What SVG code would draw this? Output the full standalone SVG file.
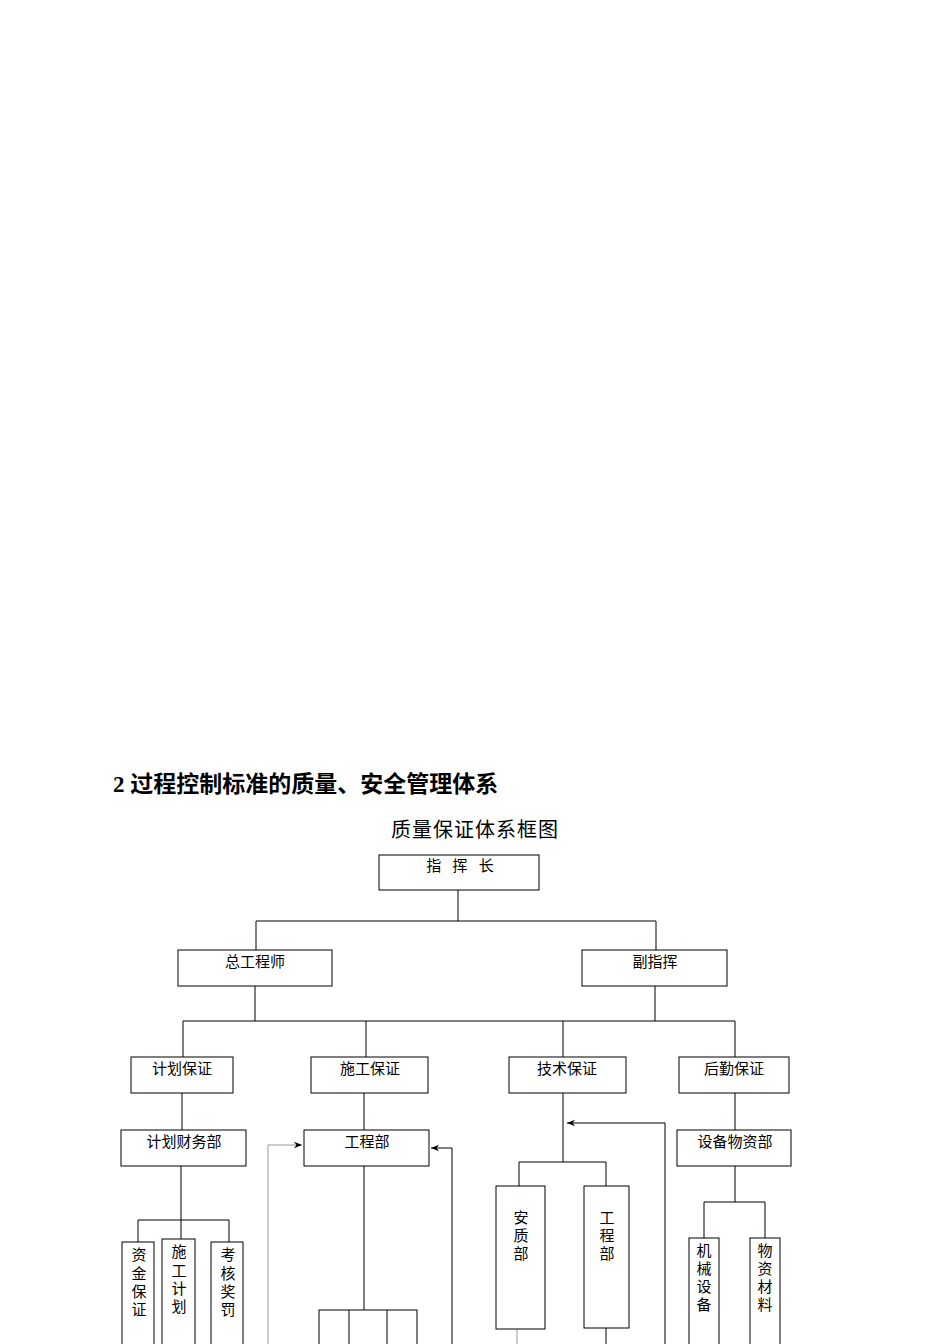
<svg xmlns="http://www.w3.org/2000/svg" width="950" height="1344" viewBox="0 0 950 1344">
<defs>
<style>
.b{fill:#fff;stroke:#000;stroke-width:1}
.l{fill:none;stroke:#000;stroke-width:1}
.g{fill:none;stroke:#999;stroke-width:1}
text{font-family:"Liberation Serif","Noto Sans CJK SC",serif;font-size:15px;fill:#000}
.c{text-anchor:middle}
</style>
<marker id="a" viewBox="0 0 10 10" refX="10" refY="5" markerWidth="8" markerHeight="8" orient="auto"><path d="M0,1 L10,5 L0,9 L3,5 Z" fill="#000"/></marker>
</defs>
<rect width="950" height="1344" fill="#fff"/>
<text x="113" y="792" style="font-size:23px;font-weight:bold">2 过程控制标准的质量、安全管理体系</text>
<text x="475" y="837" class="c" style="font-size:20px;letter-spacing:1px">质量保证体系框图</text>
<g id="connectors">
<path class="l" d="M458,890V921M256,921H656M256,921V950M656,921V950"/>
<path class="l" d="M255,986V1021M655,986V1021M183,1021H735M183,1021V1057M366,1021V1057M563,1021V1057M735,1021V1057"/>
<path class="l" d="M182,1093V1130M364,1093V1130M735,1093V1130"/>
<path class="l" d="M563,1093V1162M519,1162H606M519,1162V1186M606,1162V1186"/>
<path class="l" d="M665,1344V1123H567" marker-end="url(#a)"/>
<path class="g" d="M268,1344V1145H302" marker-end="url(#a)"/>
<path class="l" d="M452,1344V1148H431" marker-end="url(#a)"/>
<path class="g" d="M517,1329V1344"/>
<path class="l" d="M606,1328V1344"/>
<path class="l" d="M181,1166V1220M138,1220H229M138,1220V1242M181,1220V1239M229,1220V1242"/>
<path class="l" d="M364,1166V1310"/>
<path class="l" d="M735,1166V1202M704,1202H765M704,1202V1238M765,1202V1238"/>
</g>
<g id="n1"><rect class="b" x="379" y="855" width="160" height="35"/><text x="460" y="871" class="c" xml:space="preserve">指   挥   长</text></g>
<g id="n2"><rect class="b" x="178" y="950" width="154" height="36"/><text x="255" y="967" class="c">总工程师</text></g>
<g id="n3"><rect class="b" x="582" y="950" width="145" height="36"/><text x="655" y="967" class="c">副指挥</text></g>
<g id="n4"><rect class="b" x="131" y="1057" width="102" height="36"/><text x="182" y="1074" class="c">计划保证</text></g>
<g id="n5"><rect class="b" x="311" y="1057" width="117" height="36"/><text x="370" y="1074" class="c">施工保证</text></g>
<g id="n6"><rect class="b" x="509" y="1057" width="117" height="36"/><text x="567" y="1074" class="c">技术保证</text></g>
<g id="n7"><rect class="b" x="679" y="1057" width="110" height="36"/><text x="734" y="1074" class="c">后勤保证</text></g>
<g id="n8"><rect class="b" x="121" y="1130" width="125" height="36"/><text x="184" y="1147" class="c">计划财务部</text></g>
<g id="n9"><rect class="b" x="304" y="1130" width="125" height="36"/><text x="367" y="1147" class="c">工程部</text></g>
<g id="n10"><rect class="b" x="677" y="1130" width="114" height="36"/><text x="735" y="1147" class="c">设备物资部</text></g>
<g id="n11"><rect class="b" x="496" y="1186" width="49" height="143"/><text x="521" y="1223" class="c">安</text><text x="521" y="1241" class="c">质</text><text x="521" y="1259" class="c">部</text></g>
<g id="n12"><rect class="b" x="584" y="1186" width="45" height="142"/><text x="607" y="1223" class="c">工</text><text x="607" y="1241" class="c">程</text><text x="607" y="1259" class="c">部</text></g>
<g id="n13"><rect class="b" x="122" y="1242" width="32" height="110"/><text x="139" y="1260" class="c">资</text><text x="139" y="1279" class="c">金</text><text x="139" y="1297" class="c">保</text><text x="139" y="1315" class="c">证</text></g>
<g id="n14"><rect class="b" x="162" y="1239" width="33" height="110"/><text x="179" y="1257" class="c">施</text><text x="179" y="1276" class="c">工</text><text x="179" y="1294" class="c">计</text><text x="179" y="1312" class="c">划</text></g>
<g id="n15"><rect class="b" x="211" y="1242" width="32" height="110"/><text x="228" y="1260" class="c">考</text><text x="228" y="1279" class="c">核</text><text x="228" y="1297" class="c">奖</text><text x="228" y="1315" class="c">罚</text></g>
<g id="n16"><rect class="b" x="319" y="1310" width="98" height="40"/><path class="l" d="M349,1310V1344M387,1310V1344"/></g>
<g id="n17"><rect class="b" x="689" y="1238" width="30" height="110"/><text x="704" y="1256" class="c">机</text><text x="704" y="1274" class="c">械</text><text x="704" y="1292" class="c">设</text><text x="704" y="1310" class="c">备</text></g>
<g id="n18"><rect class="b" x="750" y="1238" width="30" height="110"/><text x="765" y="1256" class="c">物</text><text x="765" y="1274" class="c">资</text><text x="765" y="1292" class="c">材</text><text x="765" y="1310" class="c">料</text></g>
</svg>
